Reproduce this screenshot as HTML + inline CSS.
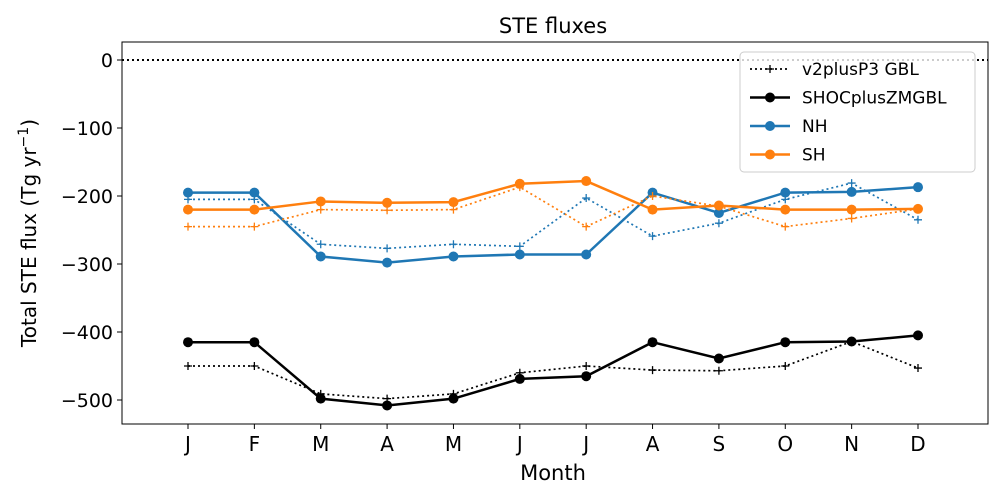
<!DOCTYPE html>
<html><head><meta charset="utf-8"><style>
body{margin:0;background:#fff;font-family:"DejaVu Sans","Liberation Sans",sans-serif;}
</style></head><body>
<svg id="chart" width="1000" height="500" xmlns="http://www.w3.org/2000/svg">
<text x="553" y="33" font-size="21" text-anchor="middle">STE fluxes</text>
<text x="553" y="480" font-size="21" text-anchor="middle">Month</text>
<text transform="translate(36,233) rotate(-90)" font-size="20" text-anchor="middle">Total STE flux (Tg yr<tspan dy="-8" font-size="14">−1</tspan><tspan dy="8">)</tspan></text>
<g id="plot"></g>
</svg>
<script>
const months=["J","F","M","A","M","J","J","A","S","O","N","D"];
const yTicks=[0,-100,-200,-300,-400,-500];
const globalV2=[-450,-450,-491,-498,-491,-460,-450,-456,-457,-450,-414,-453];
const globalShoc=[-415,-415,-498,-508,-498,-469,-465,-415,-439,-415,-414,-405];
const nhV2=[-205,-205,-271,-277,-271,-274,-203,-259,-240,-205,-181,-235];
const nhShoc=[-195,-195,-289,-298,-289,-286,-286,-195,-225,-195,-194,-187];
const shV2=[-245,-245,-220,-221,-220,-187,-245,-200,-215,-245,-233,-219];
const shShoc=[-220,-220,-208,-210,-209,-182,-178,-220,-214,-220,-220,-219];
const NS="http://www.w3.org/2000/svg";
const L=122,R=988,T=42,B=424;
const x=i=>188+i*(918-188)/11;
const y=v=>60-v*0.68;
const g=document.getElementById('plot');
function mk(t,a){const e=document.createElementNS(NS,t);for(const k in a)e.setAttribute(k,a[k]);g.appendChild(e);return e;}
yTicks.forEach(v=>{
 const t=mk('line',{x1:L-5,x2:L,y1:y(v),y2:y(v),stroke:'#000'});
 
 
 const l=mk('text',{x:L-9,y:y(v)+7,'font-size':19,'text-anchor':'end'});l.textContent=v<0?'−'+(-v):v;
 
 
});
months.forEach((m,i)=>{
 const t=mk('line',{x1:x(i),x2:x(i),y1:B,y2:B+5,stroke:'#000'});
 
 
 const l=mk('text',{x:x(i),y:B+27,'font-size':20,'text-anchor':'middle'});l.textContent=m;
 
 
});
const zl=mk('line',{x1:L,x2:R,y1:y(0),y2:y(0),stroke:'#000','stroke-width':2,'stroke-dasharray':'2,3'});


function series(vals,color,dotted,name){
 const pts=vals.map((v,i)=>x(i)+','+y(v)).join(' ');
 const p=mk('polyline',{points:pts,fill:'none',stroke:color,'stroke-width':dotted?1.7:2.5,'stroke-dasharray':dotted?'2,3':'none'});
 
 
 vals.forEach((v,i)=>{
  let m;
  if(dotted){m=mk('path',{d:`M${x(i)-4},${y(v)}h8M${x(i)},${y(v)-4}v8`,stroke:color,'stroke-width':1.3});}
  else{m=mk('circle',{cx:x(i),cy:y(v),r:5,fill:color});}
  
  
 });
}
series(globalV2,'#000',true,'v2plusp3-gbl');
series(globalShoc,'#000',false,'shocpluszmgbl');
series(nhV2,'#1f77b4',true,'nh-v2');
series(nhShoc,'#1f77b4',false,'nh');
series(shV2,'#ff7f0e',true,'sh-v2');
series(shShoc,'#ff7f0e',false,'sh');
const fr=mk('rect',{x:L,y:T,width:R-L,height:B-T,fill:'none',stroke:'#000','stroke-width':1});


const lg=mk('rect',{x:740,y:52,width:235,height:120,rx:4,fill:'#fff','fill-opacity':0.8,stroke:'#ccc'});


const items=[["v2plusP3 GBL","#000",true],["SHOCplusZMGBL","#000",false],["NH","#1f77b4",false],["SH","#ff7f0e",false]];
items.forEach((it,k)=>{
 const cy=69+k*28.5;
 const ln=mk('line',{x1:750,x2:790,y1:cy,y2:cy,stroke:it[1],'stroke-width':it[2]?1.7:2.5,'stroke-dasharray':it[2]?'2,3':'none'});
 
 
 if(it[2]){mk('path',{d:`M766,${cy}h8M770,${cy-4}v8`,stroke:it[1],'stroke-width':1.3});}
 else{mk('circle',{cx:770,cy:cy,r:5,fill:it[1]});}
 const t=mk('text',{x:802,y:cy+6,'font-size':17});t.textContent=it[0];
 
 
});
</script>
</body></html>
